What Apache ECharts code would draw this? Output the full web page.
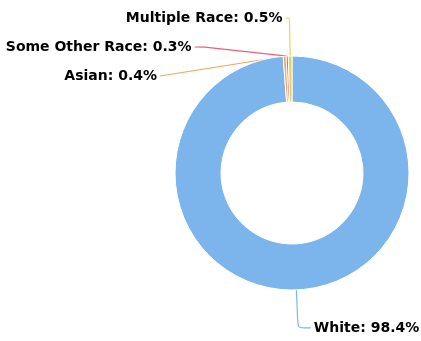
<!DOCTYPE html>
<html><head><meta charset="utf-8">
<script src="https://cdn.jsdelivr.net/npm/echarts@6/dist/echarts.min.js"></script>
<style>html,body{margin:0;padding:0;background:#fff}#c{width:421px;height:341px}</style>
</head><body><div id="c"></div>
<script>
const categories = ["White", "Asian", "Some Other Race", "Multiple Race"];
const values = [98.4, 0.4, 0.3, 0.5];
const colors = ["#7cb5ec", "#f7a35c", "#f15c80", "#e4d354"];

const lineOverrides = { "White": { length2: 13 }, "Multiple Race": { length2: 4 }, "Asian": { length2: 14 } };

const chart = echarts.init(document.getElementById('c'));
chart.setOption({
  animation: false,
  color: colors,
  series: [{
    type: 'pie',
    center: [292, 173],
    radius: [71, 117],
    startAngle: 90,
    clockwise: true,
    avoidLabelOverlap: true,
    itemStyle: { borderColor: '#fff', borderWidth: 1 },
    label: {
      show: true,
      formatter: p => p.name + ': ' + p.value + '%',
      color: '#000',
      fontFamily: 'DejaVu Sans',
      fontWeight: 'bold',
      fontSize: 14,
      overflow: 'none',
      minMargin: 15,
      distanceToLabelLine: 3
    },
    labelLine: { show: true, length: 38, length2: 10, smooth: 0.2, lineStyle: { width: 1.2 } },
    data: categories.map((n, i) => {
      const d = { name: n, value: values[i] };
      if (lineOverrides[n]) d.labelLine = lineOverrides[n];
      return d;
    })
  }]
});
</script></body></html>
